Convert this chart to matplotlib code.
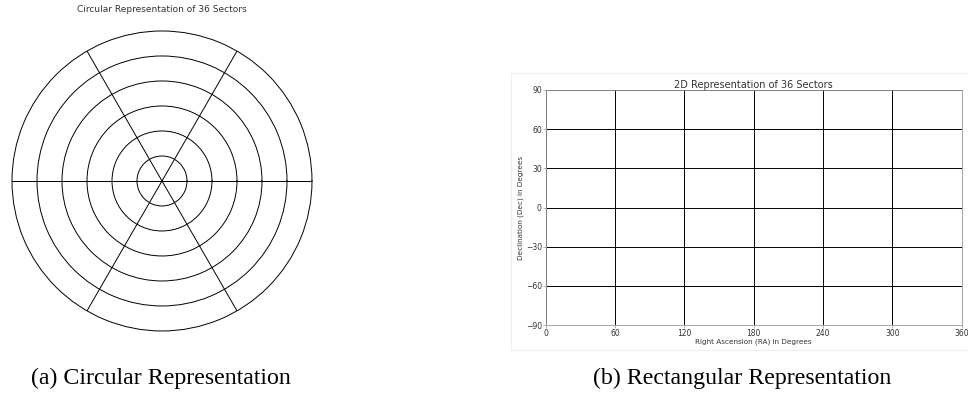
import numpy as np
import matplotlib
matplotlib.use('Agg')
import matplotlib.pyplot as plt
from matplotlib.patches import Rectangle

# Sector layout
ring_radii = [1, 2, 3, 4, 5, 6]
spoke_angles = [0, 60, 120, 180, 240, 300]
ra_ticks = [0, 60, 120, 180, 240, 300, 360]
dec_ticks = [-90, -60, -30, 0, 30, 60, 90]

fig = plt.figure(figsize=(9.68, 3.93), dpi=100)

# ---- (a) circular ----
axp = fig.add_axes([0.0124, 0.1578, 0.3099, 0.7634], projection='polar')
axp.set_ylim(0, ring_radii[-1])
axp.set_rgrids(ring_radii[:-1], labels=[])
axp.set_thetagrids(spoke_angles, labels=[])
axp.grid(True, color='black', linewidth=0.7)
axp.spines['polar'].set_color('black')
axp.spines['polar'].set_linewidth(0.7)
axp.tick_params(length=0)
fig.text(162 / 968, 1 - 10 / 393, 'Circular Representation of 36 Sectors',
         ha='center', va='center', fontsize=6.5, color='#333333')

# ---- (b) rectangular ----
fig.patches.append(Rectangle((511 / 968, 1 - 350 / 393), 460 / 968, 277 / 393,
                             transform=fig.transFigure, fill=False,
                             edgecolor='#eeeeee', linewidth=0.8))
ax = fig.add_axes([0.564, 0.173, 0.4293, 0.598])
ax.set_xlim(ra_ticks[0], ra_ticks[-1])
ax.set_ylim(dec_ticks[0], dec_ticks[-1])
ax.set_xticks(ra_ticks)
ax.set_yticks(dec_ticks)
ax.grid(True, color='black', linewidth=0.7)
for s in ax.spines.values():
    s.set_color('#999999')
    s.set_linewidth(0.6)
ax.tick_params(labelsize=5.5, length=2, width=0.5, color='#999999', pad=1,
               labelcolor='#333333')
ax.set_title('2D Representation of 36 Sectors', fontsize=7, color='#333333', pad=1.5)
ax.set_xlabel('Right Ascension (RA) in Degrees', fontsize=5.2, color='#333333', labelpad=0.5)
ax.set_ylabel('Declination (Dec) in Degrees', fontsize=5.2, color='#333333', labelpad=1)

# captions
fig.text(161 / 968, 1 - 384 / 393, '(a) Circular Representation', ha='center', va='baseline',
         fontsize=17.2, family='Liberation Serif')
fig.text(742 / 968, 1 - 384 / 393, '(b) Rectangular Representation', ha='center', va='baseline',
         fontsize=17.2, family='Liberation Serif')

fig.savefig('out.png', dpi=100)
